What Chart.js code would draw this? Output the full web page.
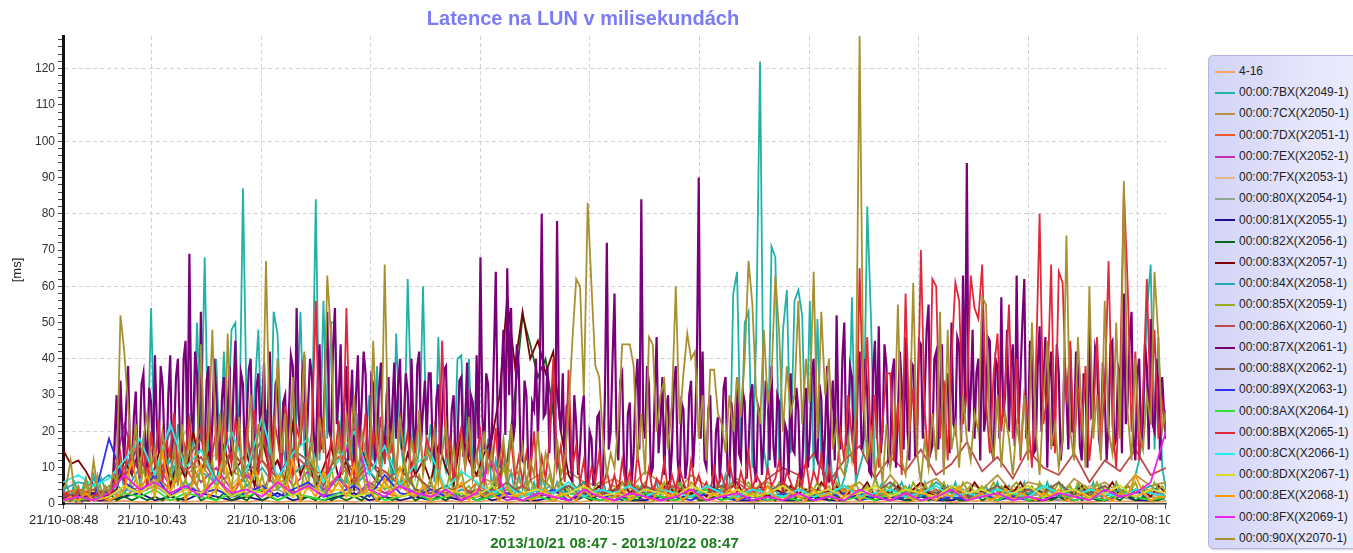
<!DOCTYPE html>
<html>
<head>
<meta charset="utf-8">
<script src="https://cdn.jsdelivr.net/npm/chart.js@4.4.0/dist/chart.umd.min.js"></script>
<style>
  html, body { margin: 0; padding: 0; background: #fff; overflow: hidden; }
  body { width: 1353px; height: 553px; position: relative; font-family: "Liberation Sans", Arial, sans-serif; }
  #wrap { position: absolute; left: 0; top: 0; width: 1170px; height: 553px; }
  #legend {
    position: absolute; left: 1208px; top: 55px; width: 170px; height: 487px;
    border: 1px solid #b4b4e0; border-radius: 5px;
    background: linear-gradient(90deg, #d3d3f6 0%, #e6e6fc 60%, #eeeeff 100%);
    box-shadow: 1px 1px 2px rgba(120,120,170,0.35);
    padding-top: 5px; box-sizing: content-box;
  }
  #legend .item { height: 21.23px; line-height: 21.23px; font-size: 12px; color: #222; white-space: nowrap; }
  #legend .swatch { display: inline-block; width: 20px; height: 2px; margin: 0 4px 0 6px; vertical-align: middle; }
</style>
</head>
<body>
<div id="wrap"><canvas id="chart"></canvas></div>
<div id="legend"></div>
<script>
// x = minutes since 2013/10/21 08:47
const X_MAX = 1440;
const X_TICK_MIN = [1, 116, 259, 402, 545, 688, 831, 974, 1117, 1260, 1403];
const X_TICK_LABELS = ['21/10-08:48', '21/10-10:43', '21/10-13:06', '21/10-15:29', '21/10-17:52',
  '21/10-20:15', '21/10-22:38', '22/10-01:01', '22/10-03:24', '22/10-05:47', '22/10-08:10'];
const Y_MAX = 129;

const SERIES_NAMES = ['4-16', '00:00:7BX(X2049-1)', '00:00:7CX(X2050-1)', '00:00:7DX(X2051-1)',
  '00:00:7EX(X2052-1)', '00:00:7FX(X2053-1)', '00:00:80X(X2054-1)', '00:00:81X(X2055-1)',
  '00:00:82X(X2056-1)', '00:00:83X(X2057-1)', '00:00:84X(X2058-1)', '00:00:85X(X2059-1)',
  '00:00:86X(X2060-1)', '00:00:87X(X2061-1)', '00:00:88X(X2062-1)', '00:00:89X(X2063-1)',
  '00:00:8AX(X2064-1)', '00:00:8BX(X2065-1)', '00:00:8CX(X2066-1)', '00:00:8DX(X2067-1)',
  '00:00:8EX(X2068-1)', '00:00:8FX(X2069-1)', '00:00:90X(X2070-1)'];

// sampling interval of each series, minutes
const SERIES_STEPS = [20, 5, 20, 20, 20, 20, 20, 20, 10, 10, 20, 5, 20, 2.5, 20, 20, 20, 5, 20, 20, 10, 20, 5];

const lun416 = [0.8,0.5,1,0.6,0.9,0.5,0.7,1.1,0.6,0.8,0.5,0.9,
  0.6,1,0.5,0.8,0.7,0.5,0.9,0.6,1,0.5,0.7,0.8,
  0.5,0.9,0.6,0.7,1,0.5,0.8,0.6,0.9,0.5,0.7,1,
  0.6,0.8,0.5,0.9,0.7,0.5,1,0.6,0.8,0.5,0.9,0.7,
  0.5,0.8,1,0.6,0.7,0.5,0.9,0.6,0.8,1,0.5,0.7,
  0.9,0.6,0.5,0.8,0.7,1,0.6,0.5,0.9,0.7,0.8,0.6,
  0.7];

const lun7B = [3,5,2,6,3,4,7,2,8,3,7,4,
  5,3,6,10,4,12,8,15,6,18,9,54,
  12,6,20,9,16,5,22,11,8,25,14,50,
  18,68,10,24,40,12,42,20,48,50,16,87,
  22,9,30,48,14,26,8,53,47,18,12,28,
  10,24,53,15,8,20,84,12,56,18,50,50,
  14,28,6,22,11,25,9,16,30,12,38,8,
  20,14,6,47,18,10,62,25,8,15,60,12,
  22,6,46,14,9,18,5,40,41,12,40,8,
  37,10,6,18,4,12,7,15,5,9,3,8,
  4,7,3,6,2,8,4,5,3,6,2,5,
  3,4,2,6,3,5,2,4,3,7,2,4,
  3,5,2,4,6,2,3,5,2,4,3,6,
  2,4,3,5,2,6,3,4,2,5,3,4,
  2,5,3,6,4,8,3,58,64,12,50,53,
  10,46,122,15,8,71,68,12,48,59,14,56,
  59,52,10,56,8,51,12,6,18,5,9,4,
  7,12,57,6,10,14,82,50,8,4,6,3,
  5,2,4,6,3,5,2,4,3,6,2,5,
  3,4,2,5,3,6,2,4,3,5,2,4,
  3,5,2,4,6,2,3,5,2,4,3,6,
  2,4,3,5,2,6,3,4,2,5,3,4,
  3,5,2,4,3,6,2,5,3,4,2,6,
  3,4,2,5,8,12,20,53,66,15,46,10,
  4];

const lun7C = [3,4,2,5,8,12,6,10,8,11,5,9,
  7,12,5,9,10,4,8,11,5,9,6,8,
  4,3,5,8,6,10,5,8,4,9,6,5,
  7,4,9,6,3,8,5,3,7,4,6,3,
  5,3,7,4,6,2,8,3,5,7,3,6,
  4,8,3,6,5,2,7,4,6,3,8,5,
  6];

const lun7D = [3,4,3,3,2,5,8,4,10,3,7,2,
  9,3,12,2,6,3,8,2,5,3,2,4,
  2,3,1,6,2,3,1,2,4,1,3,2,
  1,3,2,1,4,2,1,3,2,5,1,2,
  3,1,2,4,1,2,3,1,6,2,1,3,
  2,1,4,2,3,1,2,5,1,3,2,4,
  2];

const lun7E = [1,2,1,2,22,8,12,5,14,6,10,4,
  8,3,12,5,9,4,7,2,6,3,5,2,
  3,1,4,2,3,1,2,4,1,3,2,1,
  2,3,1,4,2,1,3,2,1,4,2,3,
  1,2,4,1,3,2,1,3,2,4,1,2,
  3,1,2,4,2,1,3,2,1,3,2,4,
  2];

const lun7F = [2,3,2,3,8,15,6,12,20,9,14,5,
  10,18,6,12,4,9,15,5,11,7,4,8,
  3,5,2,4,6,3,2,5,3,4,2,3,
  2,4,3,2,5,3,2,4,3,2,5,3,
  4,2,3,5,2,4,3,2,5,3,2,4,
  3,2,5,3,4,2,3,5,2,4,3,2,
  3];

const lun80 = [2,1,3,2,4,3,5,2,6,3,4,2,
  5,3,4,2,6,3,2,4,3,5,2,3,
  2,3,1,2,3,2,1,3,2,1,2,3,
  1,2,3,1,2,1,3,2,1,2,3,1,
  2,1,2,3,1,2,1,3,2,1,2,1,
  3,2,1,2,3,1,2,1,3,2,1,2,
  1];

const lun81 = [1,2,1,1,2,3,1,2,1,3,2,1,
  2,1,3,1,2,1,2,3,1,2,1,2,
  1,2,1,3,1,2,1,1,2,1,3,1,
  2,1,1,2,1,3,1,2,1,1,2,1,
  1,2,1,1,3,1,2,1,2,1,1,2,
  2,1,3,1,1,2,1,2,1,3,1,1,
  2];

const lun82 = [1,2,1,1,2,1,3,1,2,1,2,1,
  2,1,3,1,2,4,1,2,1,3,1,2,
  1,3,1,2,1,2,4,1,2,1,3,1,
  2,1,2,1,3,1,2,1,2,3,1,2,
  1,2,1,3,1,2,1,2,4,8,12,30,
  52,44,35,40,25,6,2,1,2,1,3,1,
  2,1,2,1,3,1,2,1,2,1,3,1,
  1,2,1,3,1,2,1,1,2,1,3,1,
  2,1,1,3,1,2,1,2,1,3,1,2,
  1,2,1,1,3,1,2,1,2,1,1,3,
  1,2,1,2,1,3,1,1,2,1,2,1,
  3,1,2,1,1,2,1,3,1,2,1,1,
  2];

const lun83 = [15,11,12,9,5,3,2,4,12,8,15,6,
  10,18,5,12,7,20,9,14,6,16,8,11,
  14,5,18,9,12,6,22,8,13,5,10,16,
  7,12,4,15,9,6,18,10,5,14,8,12,
  6,16,10,5,20,12,8,14,18,30,57,38,
  53,40,45,36,42,20,8,4,6,3,5,2,
  4,6,3,5,2,4,3,6,2,5,3,4,
  2,5,3,4,6,2,3,5,2,4,3,5,
  3,4,2,6,3,5,2,4,3,6,2,4,
  3,5,2,4,6,3,2,5,3,4,2,6,
  3,4,2,5,3,6,2,4,3,5,2,4,
  3,5,2,4,3,6,2,5,3,4,2,5,
  3];

const lun84 = [4,6,5,8,3,10,5,12,4,9,6,14,
  5,10,4,8,12,3,7,5,9,4,6,3,
  5,2,4,3,2,5,3,2,4,3,6,2,
  3,2,4,3,5,2,3,4,2,3,5,2,
  4,3,2,5,3,2,4,3,2,6,3,2,
  3,4,2,3,5,2,4,3,2,4,3,5,
  2];

const lun85 = [2,3,1,4,2,3,5,2,3,8,4,2,
  3,6,28,12,5,9,4,7,3,10,5,8,
  4,11,6,3,9,5,14,4,7,3,8,5,
  10,4,6,12,3,8,5,9,4,15,6,3,
  7,5,11,4,8,3,10,6,4,9,5,13,
  4,7,3,9,5,12,4,6,8,3,10,5,
  6,4,9,3,7,5,11,4,6,3,8,5,
  4,9,3,6,5,12,4,7,3,8,5,4,
  7,3,10,5,4,8,3,6,9,4,5,3,
  6,4,8,3,5,7,4,11,5,3,6,4,
  5,3,7,4,6,3,5,8,4,3,6,5,
  4,6,3,5,4,7,3,5,6,4,3,5,
  5,3,6,4,7,3,5,4,6,3,5,4,
  3,6,4,5,3,7,4,3,6,5,4,3,
  5,4,3,6,4,5,3,7,4,3,5,6,
  4,3,6,4,5,3,4,6,3,5,4,3,
  6,4,3,5,4,6,3,4,5,3,6,4,
  3,5,4,6,3,4,5,3,7,4,3,5,
  4,6,3,4,5,3,6,4,3,5,4,6,
  3,4,6,3,5,4,3,6,4,5,3,4,
  5,3,4,6,3,5,4,3,5,6,4,3,
  4,5,3,6,4,3,5,4,6,3,4,5,
  3,6,4,5,3,4,6,3,5,4,3,6,
  4,3,5,4,6,3,5,4,3,6,4,5,
  3];

const lun86 = [3,2,4,3,8,12,7,14,9,13,6,15,
  9,12,7,14,10,8,13,6,11,9,5,8,
  4,3,5,2,4,3,5,2,3,5,3,4,
  2,5,3,4,5,2,4,3,6,3,7,10,
  8,14,6,12,16,7,13,9,15,8,11,17,
  9,13,7,15,10,8,14,6,12,9,15,8,
  10];

// 2.5 minute samples
const lun87 = [1,2,2,1,1,2,3,1,2,3,1,2,2,1,1,3,3,2,2,1,1,2,2,3,
  2,3,4,18,30,8,34,20,12,27,38,14,8,24,31,10,15,33,36,18,10,32,28,12,
  41,22,14,38,33,16,9,30,41,11,18,35,40,20,12,40,45,15,69,25,20,42,36,14,
  53,20,15,34,38,12,22,40,31,18,10,29,35,14,26,38,12,31,45,16,18,36,33,11,
  24,37,40,15,11,32,36,20,28,39,14,25,42,12,19,33,35,17,9,28,30,12,25,41,
  38,14,54,26,16,36,41,13,27,40,35,19,12,34,44,15,22,38,53,20,18,43,54,22,
  30,44,15,28,38,12,25,37,11,30,41,16,28,42,36,13,14,35,33,10,20,31,39,17,
  12,30,35,14,27,39,18,33,40,15,23,36,31,12,40,21,14,38,42,17,26,34,19,36,
  36,16,11,29,33,14,24,37,38,15,9,26,30,11,17,34,35,13,22,39,13,30,28,10,
  41,18,68,24,15,36,33,12,20,40,64,22,10,35,48,19,65,30,54,17,22,44,38,13,
  12,34,30,10,8,28,26,40,18,35,80,24,25,38,14,30,33,12,78,26,20,36,9,27,
  28,12,6,30,22,8,15,26,30,7,4,20,18,5,10,24,25,6,8,30,72,15,20,40,
  58,20,12,34,36,10,5,25,28,6,14,32,40,15,84,22,18,38,33,8,10,30,46,14,
  22,35,8,26,30,6,15,33,38,12,6,28,26,7,12,30,34,10,20,38,90,18,42,12,
  10,26,30,8,5,20,24,6,16,32,35,9,8,28,22,5,35,14,12,31,28,7,15,30,
  33,10,6,27,25,8,18,34,30,12,38,16,10,30,28,6,4,22,20,8,36,15,14,32,
  26,6,8,28,32,10,18,36,40,14,12,33,29,8,20,38,6,25,34,12,52,20,15,40,
  50,16,22,38,35,12,10,33,42,15,18,40,30,9,8,36,45,18,49,14,20,44,38,12,
  14,36,40,10,25,42,33,15,46,20,12,39,38,13,22,45,44,18,30,48,55,14,16,40,
  42,15,28,44,10,32,36,14,50,22,20,46,44,17,63,25,94,20,30,48,18,36,40,12,
  54,20,25,46,45,15,12,40,38,18,57,24,30,48,20,38,44,16,63,22,35,50,62,18,
  22,45,40,14,15,38,49,20,33,46,10,35,42,16,28,44,36,12,18,40,30,15,43,20,
  20,42,38,16,12,36,32,10,50,24,25,43,40,18,14,39,30,12,22,44,45,16,18,38,
  36,14,58,22,28,45,53,18,12,36,40,16,24,44,38,15,51,22,20,40,33,12,35,25,
  18];

const lun88 = [2,3,2,4,10,16,8,20,12,18,6,14,
  10,18,7,15,12,5,16,8,12,6,10,4,
  3,5,2,4,3,6,2,4,3,5,2,3,
  4,2,5,3,2,4,3,5,2,4,3,6,
  2,4,3,5,2,3,6,2,4,3,5,2,
  3,5,2,4,3,6,2,3,5,2,4,3,
  2];

const lun89 = [1,2,1,18,6,3,8,2,5,3,4,2,
  3,5,2,4,6,2,3,5,2,8,3,2,
  4,2,3,1,2,3,1,2,4,1,2,3,
  1,2,3,1,2,1,3,2,1,2,1,3,
  2,1,2,3,1,2,1,2,3,1,2,1,
  3,1,2,1,2,3,1,2,1,2,4,1,
  2];

const lun8A = [1,1,2,1,3,2,4,1,3,2,1,3,
  2,4,1,3,2,1,3,2,4,1,2,3,
  1,2,3,1,2,4,1,2,1,3,2,1,
  2,1,3,2,1,2,4,1,2,3,1,2,
  1,3,2,1,2,1,3,2,1,2,4,1,
  2,1,3,1,2,3,1,2,1,3,2,1,
  2];

const lun8B = [2,3,1,2,4,2,3,1,2,3,2,1,
  2,4,9,14,6,18,10,21,7,16,4,20,
  11,23,6,17,13,25,8,20,14,24,6,18,
  21,10,25,14,20,7,24,17,11,23,16,8,
  20,13,26,8,21,16,6,24,18,11,27,14,
  8,21,17,28,11,20,56,14,24,7,18,13,
  23,10,54,16,7,21,13,25,8,20,14,24,
  11,21,16,7,25,13,20,8,17,23,10,18,
  14,21,8,45,13,18,6,16,21,10,17,7,
  13,20,6,14,10,21,4,16,8,18,7,13,
  6,14,8,20,4,13,7,17,40,10,16,6,
  37,10,16,6,12,4,10,6,14,5,9,4,
  8,3,12,5,9,3,14,6,4,10,3,7,
  5,12,3,8,4,10,6,3,12,5,8,4,
  6,3,10,5,8,4,12,6,3,9,5,14,
  4,8,6,3,10,5,7,12,4,9,6,3,
  8,5,12,4,9,6,14,3,10,5,8,20,
  12,30,18,8,65,25,46,14,30,10,22,36,
  36,12,28,8,58,20,32,14,70,26,10,62,
  60,18,34,12,40,61,56,22,30,63,54,51,
  66,28,14,36,47,20,32,55,18,40,12,30,
  24,10,36,80,22,30,66,14,64,61,28,45,
  15,32,20,38,12,24,46,18,30,67,22,10,
  34,87,60,20,42,12,30,62,25,48,18,28,
  20];

const lun8C = [6,8,5,7,12,18,8,22,10,15,6,20,
  9,24,7,14,18,6,12,20,8,16,5,11,
  14,4,9,6,3,5,2,4,3,6,2,4,
  3,5,2,4,3,2,5,3,2,4,3,2,
  4,2,3,5,2,3,4,2,3,5,2,3,
  2,4,3,2,5,3,2,4,3,2,4,3,
  2];

const lun8D = [1,2,1,2,5,3,6,2,4,3,5,2,
  4,3,6,2,5,3,4,2,3,5,2,3,
  2,4,3,2,5,2,3,4,2,3,5,2,
  3,2,4,3,2,5,3,2,4,2,3,5,
  2,3,4,2,3,5,2,4,3,2,5,3,
  4,2,3,5,2,3,4,2,3,5,2,4,
  3];

const lun8E = [1,2,1,3,1,2,1,2,4,12,3,8,
  2,14,3,9,1,6,11,2,4,13,3,7,
  2,10,4,2,8,3,12,1,5,2,9,3,
  6,2,11,3,4,1,7,2,10,3,2,5,
  1,8,2,3,6,1,4,2,3,1,5,2,
  3,1,2,4,1,3,2,1,4,2,3,1,
  2,4,1,3,2,1,5,2,3,1,4,2,
  1,3,2,4,1,2,3,1,5,2,1,3,
  2,1,4,2,3,1,2,5,1,3,2,4,
  1,2,3,1,4,2,1,3,2,5,1,2,
  3,1,2,4,1,3,2,1,3,2,4,1,
  2,3,1,4,2,1,3,2,8,3,1,2,
  2];

const lun8F = [1,2,1,3,8,4,6,3,5,2,7,3,
  4,2,6,3,5,2,8,22,4,2,5,3,
  2,4,1,3,12,2,1,3,2,1,4,2,
  1,3,2,1,2,4,1,2,3,1,2,1,
  3,1,2,1,4,2,1,3,1,2,4,1,
  2,3,1,2,1,3,2,1,4,2,3,6,
  20];

const lun90 = [4,6,12,3,5,2,7,3,12,4,2,5,
  3,8,6,52,42,27,12,22,8,18,25,10,
  15,6,20,12,8,16,5,22,10,18,7,14,
  44,9,20,48,12,25,8,47,18,10,24,6,
  15,30,8,22,12,67,18,10,40,14,25,8,
  35,12,20,42,9,18,6,24,14,63,46,10,
  18,8,25,12,30,6,20,14,10,45,16,8,
  66,12,20,8,24,14,6,18,10,26,8,15,
  12,20,6,14,22,8,16,5,18,10,24,7,
  14,6,20,9,15,5,12,18,6,22,10,8,
  16,5,12,8,20,6,14,10,5,18,8,12,
  25,45,62,60,30,83,60,38,35,18,8,14,
  10,22,44,44,44,38,12,25,8,46,44,20,
  30,34,15,28,60,22,36,47,40,42,18,30,
  12,37,37,25,22,14,30,20,35,24,40,67,
  55,30,22,48,28,35,63,47,20,38,25,30,
  56,22,40,28,64,18,53,30,40,15,22,10,
  8,18,12,25,129,30,12,20,8,15,6,22,
  10,18,55,12,8,20,61,14,6,18,10,25,
  12,53,8,48,15,22,10,30,18,12,25,20,
  57,55,20,12,30,10,25,18,8,22,15,30,
  12,50,20,8,28,45,15,22,10,18,74,20,
  12,46,25,10,60,18,30,12,56,20,14,50,
  18,89,25,12,40,20,15,30,22,64,46,20,
  26];

const SERIES_VALUES = [lun416, lun7B, lun7C, lun7D, lun7E, lun7F, lun80, lun81, lun82, lun83, lun84,
  lun85, lun86, lun87, lun88, lun89, lun8A, lun8B, lun8C, lun8D, lun8E, lun8F, lun90];

const SERIES_COLORS = ['#f4a460', '#20b2aa', '#b8923e', '#f05a28', '#c62cba', '#deb887', '#8fa88f',
  '#1c0f88', '#0a6a1a', '#800000', '#28a8b0', '#9aaa22', '#c04a4a', '#7a007a', '#806050', '#3030f0',
  '#33e033', '#e0283a', '#22eeee', '#dada2a', '#ff9a00', '#f020f0', '#a89030'];

Chart.defaults.font.family = '"Liberation Sans", Arial, sans-serif';

const datasets = SERIES_NAMES.map((name, i) => ({
  label: name,
  data: SERIES_VALUES[i].map((v, k) => ({ x: k * SERIES_STEPS[i], y: v })),
  borderColor: SERIES_COLORS[i],
  backgroundColor: SERIES_COLORS[i],
  borderWidth: i === 13 ? 2.2 : 1.8,
  pointRadius: 0,
  tension: 0,
  fill: false,
  order: SERIES_NAMES.length - i  // later series on top
}));

// major ticks plus 3 minor ticks in between
function xTickValues() {
  const vals = [];
  for (let i = 0; i < X_TICK_MIN.length; i++) {
    vals.push(X_TICK_MIN[i]);
    const span = i + 1 < X_TICK_MIN.length ? X_TICK_MIN[i + 1] - X_TICK_MIN[i] : X_TICK_MIN[2] - X_TICK_MIN[1];
    for (let q = 1; q < 4; q++) {
      const v = X_TICK_MIN[i] + span * q / 4;
      if (v <= X_MAX) vals.push(v);
    }
  }
  return vals;
}

const ctx = document.getElementById('chart').getContext('2d');
const chart = new Chart(ctx, {
  type: 'line',
  data: { datasets },
  options: {
    responsive: true,
    maintainAspectRatio: false,
    animation: false,
    layout: { padding: { left: 0, right: 4, top: 0, bottom: 0 } },
    plugins: {
      legend: { display: false },
      tooltip: { enabled: false },
      title: {
        display: true,
        text: 'Latence na LUN v milisekundách',
        color: '#7b7bf4',
        font: { size: 20, weight: 'bold' },
        padding: { top: 7, bottom: 5 }
      }
    },
    scales: {
      x: {
        type: 'linear',
        min: 0,
        max: X_MAX,
        afterBuildTicks: (scale) => { scale.ticks = xTickValues().map(v => ({ value: v })); },
        afterFit: (scale) => { scale.height = 49; },
        ticks: {
          autoSkip: false,
          maxRotation: 0,
          padding: 4,
          color: '#222',
          font: { size: 13 },
          callback: (v) => {
            const k = X_TICK_MIN.indexOf(v);
            return k >= 0 ? X_TICK_LABELS[k] : '';
          }
        },
        grid: {
          color: (c) => (c.tick && X_TICK_MIN.indexOf(c.tick.value) > 0) ? '#d2d2d2' : 'rgba(0,0,0,0)',
          tickColor: '#555',
          tickLength: 5,
          tickBorderDash: [],
          lineWidth: 1
        },
        border: { display: true, color: '#444', width: 1.5, dash: [4, 3] },
        title: {
          display: true,
          text: '2013/10/21 08:47 - 2013/10/22 08:47',
          color: '#1e7d1e',
          font: { size: 15, weight: 'bold' },
          padding: { top: 0, bottom: 0 }
        }
      },
      y: {
        type: 'linear',
        min: 0,
        max: Y_MAX,
        afterBuildTicks: (scale) => {
          const t = [];
          for (let v = 0; v <= 128; v += 2) t.push({ value: v });
          scale.ticks = t;
        },
        afterFit: (scale) => { scale.width = 63; },
        ticks: {
          autoSkip: false,
          padding: 3,
          color: '#333',
          font: { size: 12 },
          callback: (v) => (v % 10 === 0 ? String(v) : '')
        },
        grid: {
          color: (c) => (c.tick && c.tick.value > 0 && c.tick.value % 20 === 0) ? '#d2d2d2' : 'rgba(0,0,0,0)',
          tickColor: '#444',
          tickLength: 5,
          tickBorderDash: [],
          lineWidth: 1
        },
        border: { display: true, color: '#111', width: 3, dash: [4, 3] },
        title: {
          display: true,
          text: '[ms]',
          color: '#222',
          font: { size: 13 },
          padding: { top: 10, bottom: 0 }
        }
      }
    }
  }
});

// legend box in the original series order
const legendEl = document.getElementById('legend');
chart.data.datasets.forEach((ds) => {
  const row = document.createElement('div');
  row.className = 'item';
  const sw = document.createElement('span');
  sw.className = 'swatch';
  sw.style.background = ds.borderColor;
  row.appendChild(sw);
  row.appendChild(document.createTextNode(ds.label));
  legendEl.appendChild(row);
});
</script>
</body>
</html>
